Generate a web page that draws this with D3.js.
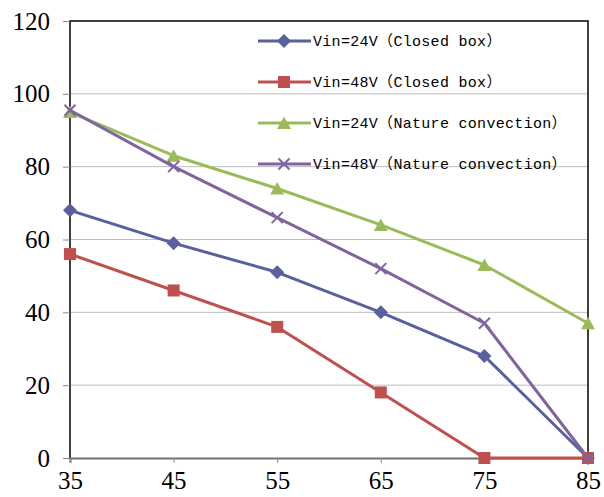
<!DOCTYPE html>
<html>
<head>
<meta charset="utf-8">
<script src="https://cdn.jsdelivr.net/npm/d3@7"></script>
<style>
  body { margin: 0; background: #fff; }
  svg { display: block; }
</style>
</head>
<body>
<div id="chart"></div>
<script>
const temps = [35, 45, 55, 65, 75, 85];
const yTicks = [0, 20, 40, 60, 80, 100, 120];
const seriesNames = [
  'Vin=24V\uFF08Closed box\uFF09',
  'Vin=48V\uFF08Closed box\uFF09',
  'Vin=24V\uFF08Nature convection\uFF09',
  'Vin=48V\uFF08Nature convection\uFF09'
];
const v24Closed = [68, 59, 51, 40, 28, 0];
const v48Closed = [56, 46, 36, 18, 0, 0];
const v24Nature = [95, 83, 74, 64, 53, 37];
const v48Nature = [95.5, 80, 66, 52, 37, 0];

const series = [
  { name: seriesNames[0], values: v24Closed, color: '#5A5F9E', marker: 'diamond' },
  { name: seriesNames[1], values: v48Closed, color: '#C0504D', marker: 'square' },
  { name: seriesNames[2], values: v24Nature, color: '#9BBB59', marker: 'triangle' },
  { name: seriesNames[3], values: v48Nature, color: '#8064A2', marker: 'cross' }
];

const width = 604, height = 497;
const margin = { top: 21, right: 16, bottom: 39, left: 70 };

const svg = d3.select('#chart').append('svg')
  .attr('width', width)
  .attr('height', height);

const x = d3.scaleLinear().domain([35, 85]).range([margin.left, width - margin.right]);
const y = d3.scaleLinear().domain([0, 120]).range([height - margin.bottom, margin.top]);

// gridlines
svg.append('g')
  .selectAll('line')
  .data(yTicks.filter(d => d > 0 && d < 120))
  .enter().append('line')
  .attr('x1', x(35)).attr('x2', x(85))
  .attr('y1', d => y(d)).attr('y2', d => y(d))
  .attr('stroke', '#BEBEBE').attr('stroke-width', 1);

// frame: top, right, left
svg.append('path')
  .attr('d', `M${x(35)},${y(0)}V${y(120)}H${x(85)}V${y(0)}`)
  .attr('fill', 'none').attr('stroke', '#000').attr('stroke-width', 1.5);

// y axis
const yAxis = svg.append('g')
  .attr('transform', `translate(${x(35)},0)`)
  .call(d3.axisLeft(y).tickValues(yTicks).tickSize(7).tickPadding(13));
yAxis.select('.domain').remove();
yAxis.selectAll('line').attr('stroke', '#888');
yAxis.selectAll('text')
  .attr('font-family', '"Liberation Serif", "Times New Roman", serif')
  .attr('font-size', 25).attr('fill', '#000');

// x axis
const xAxis = svg.append('g')
  .attr('transform', `translate(0,${y(0)})`)
  .call(d3.axisBottom(x).tickValues(temps).tickSize(5).tickPadding(8));
xAxis.select('.domain').attr('stroke', '#707070').attr('stroke-width', 2);
xAxis.selectAll('line').attr('stroke', '#888');
xAxis.selectAll('text')
  .attr('font-family', '"Liberation Serif", "Times New Roman", serif')
  .attr('font-size', 25).attr('fill', '#000');

function drawMarker(g, type, color) {
  if (type === 'diamond') {
    g.append('path').attr('d', 'M0,-7L7,0L0,7L-7,0Z').attr('fill', color);
  } else if (type === 'square') {
    g.append('rect').attr('x', -6).attr('y', -6).attr('width', 12).attr('height', 12).attr('fill', color);
  } else if (type === 'triangle') {
    g.append('path').attr('d', 'M0,-6.5L7,6L-7,6Z').attr('fill', color);
  } else {
    g.append('path').attr('d', 'M-5.5,-5.5L5.5,5.5M-5.5,5.5L5.5,-5.5')
      .attr('stroke', color).attr('stroke-width', 2);
  }
}

const line = d3.line().x((d, i) => x(temps[i])).y(d => y(d));

series.forEach(s => {
  const g = svg.append('g');
  g.append('path')
    .attr('d', line(s.values))
    .attr('fill', 'none')
    .attr('stroke', s.color)
    .attr('stroke-width', 3)
    .attr('stroke-linejoin', 'round');
  s.values.forEach((v, i) => {
    const m = g.append('g').attr('transform', `translate(${x(temps[i])},${y(v)})`);
    drawMarker(m, s.marker, s.color);
  });
});

// legend
const legend = svg.append('g').attr('transform', 'translate(258,41)');
series.forEach((s, i) => {
  const row = legend.append('g').attr('transform', `translate(0,${i * 41})`);
  row.append('line').attr('x1', 0).attr('x2', 53).attr('y1', 0).attr('y2', 0)
    .attr('stroke', s.color).attr('stroke-width', 3);
  const m = row.append('g').attr('transform', 'translate(26,0)');
  drawMarker(m, s.marker, s.color);
  row.append('text')
    .attr('x', 55).attr('y', 0).attr('dy', '0.35em')
    .attr('font-family', '"Liberation Mono", "Noto Sans CJK SC", monospace')
    .attr('font-size', 15)
    .attr('letter-spacing', 0.3)
    .attr('fill', '#000')
    .text(s.name);
});
</script>
</body>
</html>
